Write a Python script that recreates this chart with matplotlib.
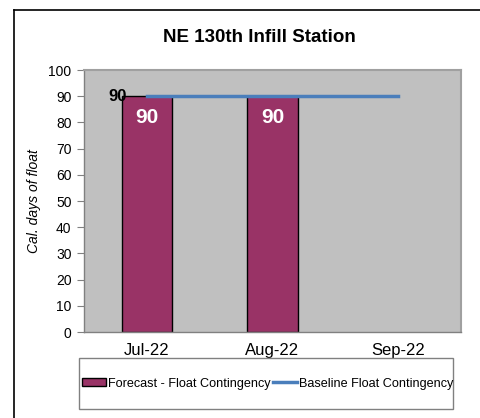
import matplotlib.pyplot as plt
from matplotlib.lines import Line2D
from matplotlib.patches import Rectangle, Patch
import numpy as np

plt.rcParams['font.family'] = ['Liberation Sans', 'DejaVu Sans']

# Monthly float data
months = ['Jul-22', 'Aug-22', 'Sep-22']
forecast = [90, 90, None]
baseline = [90, 90, 90]

bar_color = '#993366'
line_color = '#4a7ebb'

fig = plt.figure(figsize=(4.8, 4.18), dpi=100)
ax = fig.add_axes([0.175, 0.2057, 0.7854, 0.6268])
ax.set_facecolor('#c0c0c0')

x = np.arange(len(months))
fc_x = [i for i, v in zip(x, forecast) if v is not None]
fc_v = [v for v in forecast if v is not None]
bars = ax.bar(fc_x, fc_v, width=0.4, color=bar_color, edgecolor='black', linewidth=1, zorder=2)
ax.plot(x, baseline, color=line_color, linewidth=2.5, zorder=3)

# value labels
for b, v in zip(bars, fc_v):
    ax.annotate(str(v), (b.get_x() + b.get_width() / 2, v), xytext=(0, -21),
                textcoords='offset pixels', ha='center', va='center',
                color='white', fontsize=15, fontweight='bold', zorder=4)
ax.annotate(str(baseline[0]), (x[0], baseline[0]), xytext=(-29, 0),
            textcoords='offset pixels', ha='center', va='center',
            color='black', fontsize=12, fontweight='bold', zorder=4)

ax.set_xlim(-0.5, 2.5)
ax.set_ylim(0, 100)
ax.set_yticks(range(0, 101, 10))
ax.set_xticks(x)
ax.set_xticklabels(months, fontsize=12)
ax.tick_params(axis='x', length=0, pad=8)
ax.tick_params(axis='y', labelsize=10, length=5, color='#808080', pad=4)
for s in ['top', 'right']:
    ax.spines[s].set_color('#a0a0a0')
    ax.spines[s].set_linewidth(1.5)
for s in ['left', 'bottom']:
    ax.spines[s].set_color('#808080')
    ax.spines[s].set_linewidth(1)

ax.set_ylabel('Cal. days of float', fontsize=10, style='italic', labelpad=5)
fig.text(0.54, 0.91, 'NE 130th Infill Station', ha='center', va='center',
         fontsize=13.5, fontweight='bold')

# legend box
fig.add_artist(Rectangle((79 / 480, 9 / 418), 374 / 480, 51 / 418, transform=fig.transFigure,
                         facecolor='white', edgecolor='#808080', linewidth=1))
handles = [Patch(facecolor=bar_color, edgecolor='black', linewidth=1),
           Line2D([0], [0], color=line_color, linewidth=2.5)]
fig.legend(handles, ['Forecast - Float Contingency', 'Baseline Float Contingency'],
           loc='center', bbox_to_anchor=(268 / 480, 34.5 / 418), ncol=2, frameon=False,
           fontsize=9.1, handlelength=1.9, handleheight=0.55, handletextpad=0.15,
           columnspacing=0.2)

# outer frame (left and top edges)
fig.add_artist(Line2D([14 / 480, 14 / 480], [0, 1 - 10 / 418], color='black', linewidth=1.2,
                      transform=fig.transFigure))
fig.add_artist(Line2D([14 / 480, 1], [1 - 10 / 418, 1 - 10 / 418], color='black', linewidth=1.2,
                      transform=fig.transFigure))

fig.savefig('out.png', dpi=100)
